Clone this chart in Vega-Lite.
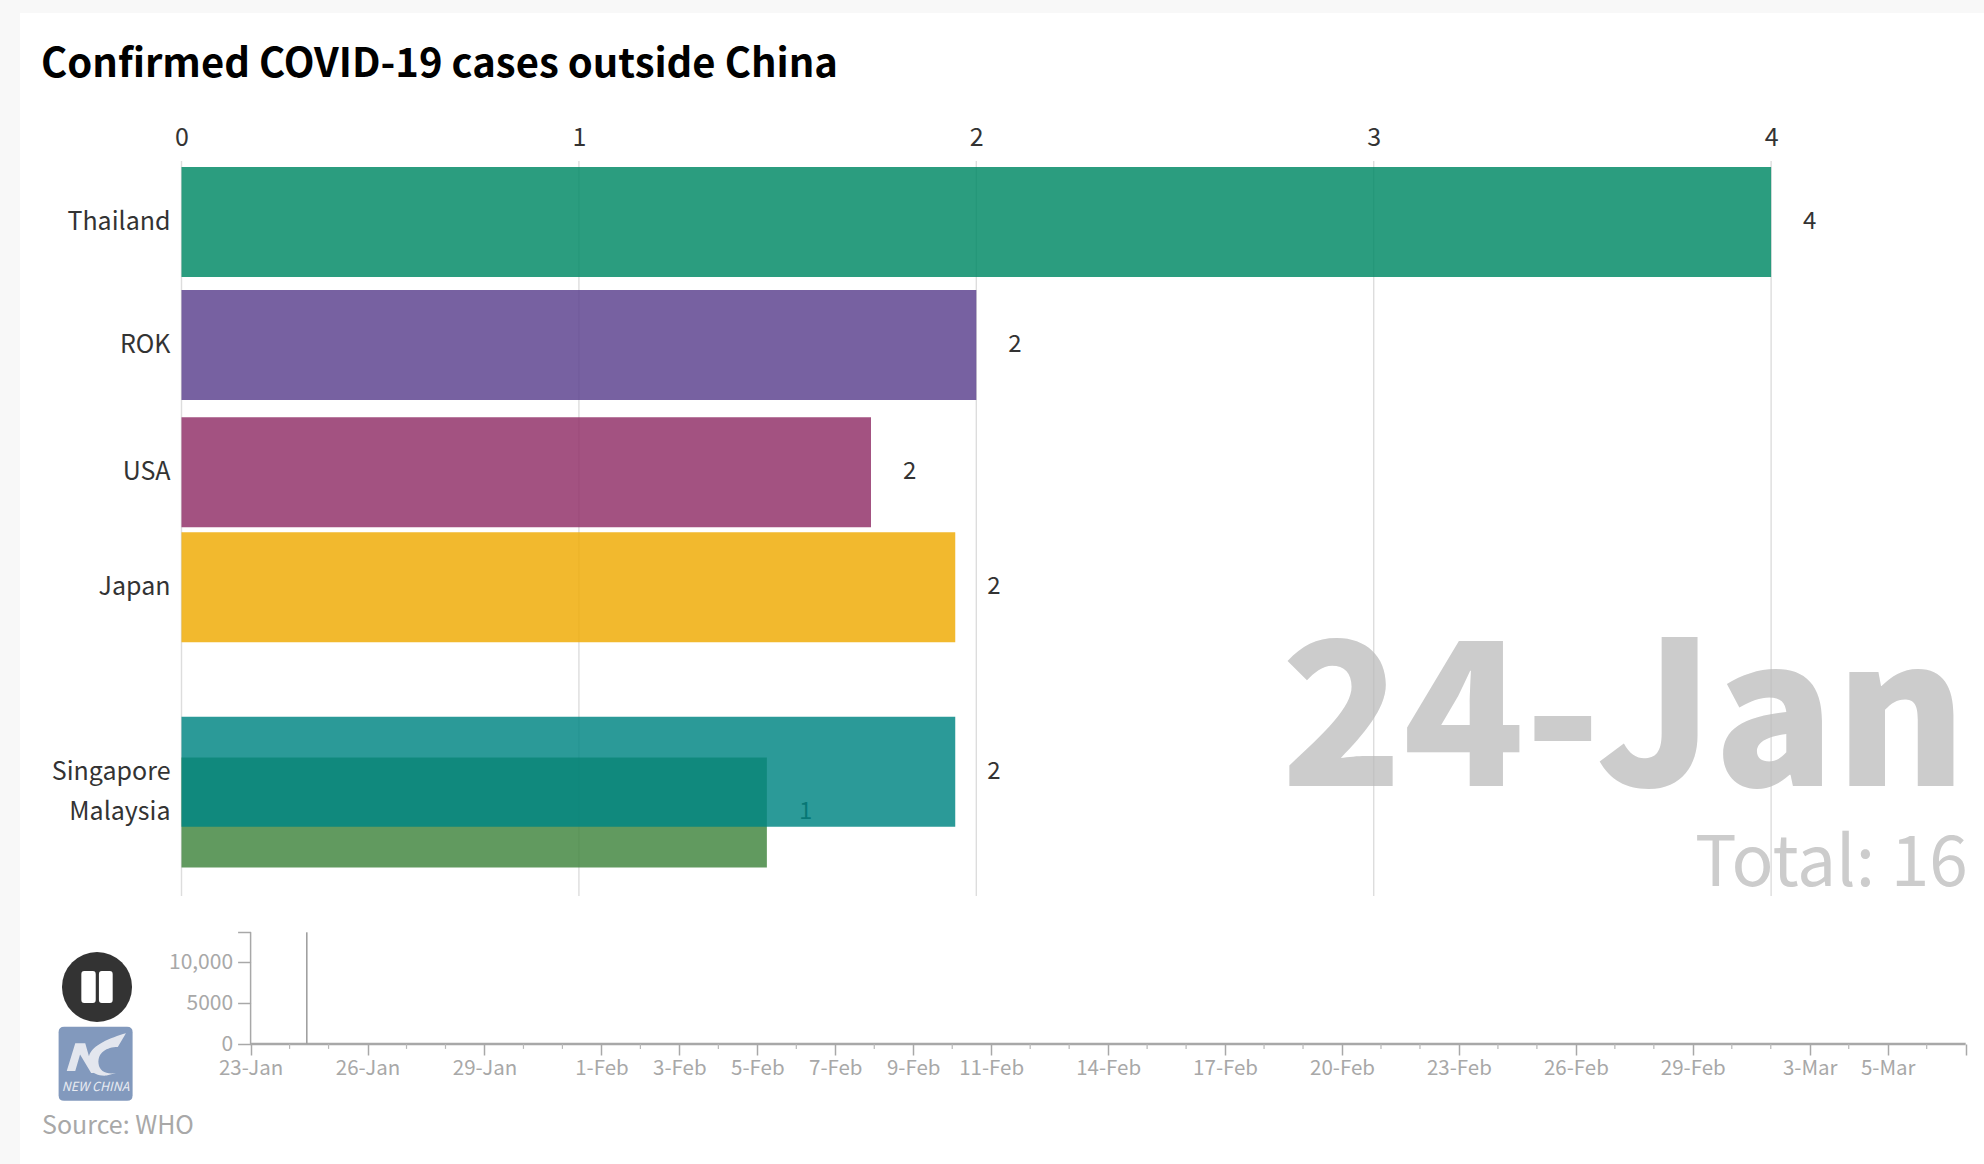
{
  "$schema": "https://vega.github.io/schema/vega-lite/v6.json",
  "background": "#f8f8f8",
  "padding": {"left": 20, "top": 13, "right": 0, "bottom": 0},
  "spacing": 0,
  "config": {
    "font": "Noto Sans CJK SC",
    "view": {"fill": "white", "stroke": null}
  },
  "datasets": {
    "bars": [
      {"country": "Thailand", "cases": 4, "rank": 0},
      {"country": "ROK", "cases": 2, "rank": 1},
      {"country": "USA", "cases": 1.735, "rank": 2.035},
      {"country": "Japan", "cases": 1.947, "rank": 2.97},
      {"country": "Malaysia", "cases": 1.473, "rank": 4.8},
      {"country": "Singapore", "cases": 1.947, "rank": 4.47}
    ],
    "grid": [
      {"tick": 0, "from": -0.496, "to": 5.48},
      {"tick": 1, "from": -0.496, "to": 5.48},
      {"tick": 2, "from": -0.496, "to": 5.48},
      {"tick": 3, "from": -0.496, "to": 5.48},
      {"tick": 4, "from": -0.496, "to": 5.48}
    ],
    "timeline": [
      {"date": "2020-01-24T10:36:00", "base": 0, "total": 13672}
    ],
    "axisline": [
      {"start": "2020-01-23T00:00:00", "end": "2020-03-07T00:00:00", "base": 0, "top": 13672}
    ],
    "days": [
      {"day": "2020-01-24T00:00:00", "base": 0, "tip": -600}, {"day": "2020-01-25T00:00:00", "base": 0, "tip": -600}, {"day": "2020-01-27T00:00:00", "base": 0, "tip": -600},
      {"day": "2020-01-28T00:00:00", "base": 0, "tip": -600}, {"day": "2020-01-30T00:00:00", "base": 0, "tip": -600}, {"day": "2020-01-31T00:00:00", "base": 0, "tip": -600},
      {"day": "2020-02-02T00:00:00", "base": 0, "tip": -600}, {"day": "2020-02-04T00:00:00", "base": 0, "tip": -600}, {"day": "2020-02-06T00:00:00", "base": 0, "tip": -600},
      {"day": "2020-02-08T00:00:00", "base": 0, "tip": -600}, {"day": "2020-02-10T00:00:00", "base": 0, "tip": -600}, {"day": "2020-02-12T00:00:00", "base": 0, "tip": -600},
      {"day": "2020-02-13T00:00:00", "base": 0, "tip": -600}, {"day": "2020-02-15T00:00:00", "base": 0, "tip": -600}, {"day": "2020-02-16T00:00:00", "base": 0, "tip": -600},
      {"day": "2020-02-18T00:00:00", "base": 0, "tip": -600}, {"day": "2020-02-19T00:00:00", "base": 0, "tip": -600}, {"day": "2020-02-21T00:00:00", "base": 0, "tip": -600},
      {"day": "2020-02-22T00:00:00", "base": 0, "tip": -600}, {"day": "2020-02-24T00:00:00", "base": 0, "tip": -600}, {"day": "2020-02-25T00:00:00", "base": 0, "tip": -600},
      {"day": "2020-02-27T00:00:00", "base": 0, "tip": -600}, {"day": "2020-02-28T00:00:00", "base": 0, "tip": -600}, {"day": "2020-03-01T00:00:00", "base": 0, "tip": -600},
      {"day": "2020-03-02T00:00:00", "base": 0, "tip": -600}, {"day": "2020-03-04T00:00:00", "base": 0, "tip": -600}, {"day": "2020-03-06T00:00:00", "base": 0, "tip": -600}
    ]
  },
  "vconcat": [
    {
      "width": 1964,
      "height": 907,
      "title": {
        "text": "Confirmed COVID-19 cases outside China",
        "anchor": "start",
        "frame": "group",
        "offset": -71.5,
        "dx": 21,
        "fontSize": 40,
        "fontWeight": "bold",
        "color": "#000000"
      },
      "layer": [
        {
          "data": {"name": "grid"},
          "mark": {"type": "rule", "color": "#dddddd", "strokeWidth": 1.4},
          "encoding": {
            "x": {
              "field": "tick",
              "type": "quantitative",
              "scale": {"domain": [-0.4064, 4.5357], "nice": false, "zero": false},
              "axis": {
                "orient": "top",
                "title": null,
                "values": [0, 1, 2, 3, 4],
                "format": "d",
                "domain": false,
                "ticks": false,
                "grid": false,
                "offset": -137,
                "labelPadding": 0,
                "labelFontSize": 25,
                "labelColor": "#333333"
              }
            },
            "y": {
              "field": "from",
              "type": "quantitative",
              "scale": {"domain": [-1.699, 5.675], "reverse": true, "nice": false, "zero": false, "padding": 0},
              "axis": null
            },
            "y2": {"field": "to"}
          }
        },
        {
          "data": {"values": [{"label": "24-Jan"}]},
          "mark": {"type": "text", "align": "right", "baseline": "alphabetic", "fontSize": 200, "fontWeight": 900, "color": "#bbbbbb", "opacity": 0.75},
          "encoding": {
            "x": {"datum": 4.492, "type": "quantitative"},
            "y": {"datum": 4.583, "type": "quantitative", "axis": null},
            "text": {"field": "label", "type": "nominal"}
          }
        },
        {
          "data": {"values": [{"label": "Total: 16"}]},
          "mark": {"type": "text", "align": "right", "baseline": "alphabetic", "fontSize": 69.5, "color": "#bbbbbb", "opacity": 0.75},
          "encoding": {
            "x": {"datum": 4.495, "type": "quantitative"},
            "y": {"datum": 5.396, "type": "quantitative", "axis": null},
            "text": {"field": "label", "type": "nominal"}
          }
        },
        {
          "data": {"name": "bars"},
          "mark": {"type": "text", "align": "left", "dx": 32, "fontSize": 24, "color": "#333333"},
          "encoding": {
            "x": {"field": "cases", "type": "quantitative"},
            "y": {"field": "rank", "type": "quantitative", "axis": null},
            "text": {"field": "cases", "type": "quantitative", "format": ".0f"}
          }
        },
        {
          "data": {"name": "bars"},
          "mark": {"type": "bar", "orient": "horizontal", "height": 110, "opacity": 0.83},
          "encoding": {
            "x": {"field": "cases", "type": "quantitative", "stack": null},
            "y": {"field": "rank", "type": "quantitative", "axis": null},
            "color": {
              "field": "country",
              "type": "nominal",
              "legend": null,
              "scale": {
                "domain": ["Thailand", "ROK", "USA", "Japan", "Malaysia", "Singapore"],
                "range": ["#008965", "#5c418e", "#902f68", "#efab04", "#41853e", "#008683"]
              }
            }
          }
        },
        {
          "data": {"name": "bars"},
          "mark": {"type": "text", "align": "right", "dx": -11, "fontSize": 25, "color": "#333333"},
          "encoding": {
            "x": {"datum": 0, "type": "quantitative"},
            "y": {"field": "rank", "type": "quantitative", "axis": null},
            "text": {"field": "country", "type": "nominal"}
          }
        }
      ]
    },
    {
      "width": 1964,
      "height": 244,
      "layer": [
        {
          "data": {"name": "axisline"},
          "mark": {"type": "rule", "color": "#a8a8a8", "strokeWidth": 2.5},
          "encoding": {
            "x": {
              "field": "start",
              "type": "temporal",
              "scale": {
                "domain": [
                  {"year": 2020, "month": 1, "date": 17, "hours": 2, "minutes": 1},
                  {"year": 2020, "month": 3, "date": 7, "hours": 11, "minutes": 17}
                ],
                "nice": false
              },
              "axis": {
                "title": null,
                "orient": "bottom",
                "offset": -120,
                "domain": false,
                "grid": false,
                "tickSize": 11,
                "tickColor": "#a8a8a8",
                "tickWidth": 1.5,
                "labelOverlap": false,
                "labelFlush": false,
                "labelFontSize": 20.5,
                "labelColor": "#a8a8a8",
                "labelPadding": 3,
                "values": [
                  {"year": 2020, "month": 1, "date": 23},
                  {"year": 2020, "month": 1, "date": 26},
                  {"year": 2020, "month": 1, "date": 29},
                  {"year": 2020, "month": 2, "date": 1},
                  {"year": 2020, "month": 2, "date": 3},
                  {"year": 2020, "month": 2, "date": 5},
                  {"year": 2020, "month": 2, "date": 7},
                  {"year": 2020, "month": 2, "date": 9},
                  {"year": 2020, "month": 2, "date": 11},
                  {"year": 2020, "month": 2, "date": 14},
                  {"year": 2020, "month": 2, "date": 17},
                  {"year": 2020, "month": 2, "date": 20},
                  {"year": 2020, "month": 2, "date": 23},
                  {"year": 2020, "month": 2, "date": 26},
                  {"year": 2020, "month": 2, "date": 29},
                  {"year": 2020, "month": 3, "date": 3},
                  {"year": 2020, "month": 3, "date": 5},
                  {"year": 2020, "month": 3, "date": 7}
                ],
                "labelExpr": "datum.value >= datetime(2020, 2, 7) ? '' : timeFormat(datum.value, '%-d-%b')"
              }
            },
            "x2": {"field": "end"},
            "y": {
              "field": "base",
              "type": "quantitative",
              "scale": {"domain": [-14688, 15178], "nice": false, "zero": false, "padding": 0},
              "axis": {
                "title": null,
                "orient": "left",
                "offset": -230.6,
                "domain": false,
                "grid": false,
                "values": [0, 5000, 10000, 13672],
                "tickSize": 13,
                "tickColor": "#a8a8a8",
                "tickWidth": 1.5,
                "labelFontSize": 21,
                "labelColor": "#a8a8a8",
                "labelPadding": 5,
                "labelExpr": "datum.value == 10000 ? '10,000' : datum.value == 13672 ? '' : datum.value + ''"
              }
            }
          }
        },
        {
          "data": {"name": "axisline"},
          "mark": {"type": "rule", "color": "#a8a8a8", "strokeWidth": 1.5},
          "encoding": {
            "x": {"field": "start", "type": "temporal"},
            "y": {"field": "base", "type": "quantitative"},
            "y2": {"field": "top"}
          }
        },
        {
          "data": {"name": "timeline"},
          "mark": {"type": "rule", "color": "#a0a0a0", "strokeWidth": 1.6},
          "encoding": {
            "x": {"field": "date", "type": "temporal"},
            "y": {"field": "base", "type": "quantitative"},
            "y2": {"field": "total"}
          }
        },
        {
          "data": {"name": "days"},
          "mark": {"type": "rule", "color": "#b8b8b8", "strokeWidth": 1.2},
          "encoding": {
            "x": {"field": "day", "type": "temporal"},
            "y": {"field": "base", "type": "quantitative"},
            "y2": {"field": "tip"}
          }
        },
        {
          "data": {"values": [{"control": "pause"}]},
          "mark": {"type": "point", "filled": true, "shape": "circle", "size": 4905, "color": "#333333", "opacity": 1},
          "encoding": {
            "x": {"datum": {"year": 2020, "month": 1, "date": 19, "hours": 1, "minutes": 26}, "type": "temporal"},
            "y": {"datum": 6977, "type": "quantitative"}
          }
        },
        {
          "data": {"values": [{"control": "pause"}]},
          "mark": {
            "type": "point",
            "filled": true,
            "size": 1024,
            "color": "#ffffff",
            "opacity": 1,
            "shape": "M-0.98,-0.8 Q-0.98,-1 -0.8,-1 L-0.26,-1 Q-0.08,-1 -0.08,-0.8 L-0.08,0.8 Q-0.08,1 -0.26,1 L-0.8,1 Q-0.98,1 -0.98,0.8 Z M0.12,-0.8 Q0.12,-1 0.3,-1 L0.8,-1 Q0.98,-1 0.98,-0.8 L0.98,0.8 Q0.98,1 0.8,1 L0.3,1 Q0.12,1 0.12,0.8 Z"
          },
          "encoding": {
            "x": {"datum": {"year": 2020, "month": 1, "date": 19, "hours": 1, "minutes": 26}, "type": "temporal"},
            "y": {"datum": 6977, "type": "quantitative"}
          }
        },
        {
          "data": {"values": [{"control": "logo"}]},
          "mark": {
            "type": "point",
            "filled": true,
            "size": 5476,
            "color": "#8299bd",
            "opacity": 1,
            "shape": "M-1,-0.85 Q-1,-1 -0.85,-1 L0.85,-1 Q1,-1 1,-0.85 L1,0.85 Q1,1 0.85,1 L-0.85,1 Q-1,1 -1,0.85 Z"
          },
          "encoding": {
            "x": {"datum": {"year": 2020, "month": 1, "date": 19, "hours": 0, "minutes": 34}, "type": "temporal"},
            "y": {"datum": -2411, "type": "quantitative"}
          }
        },
        {
          "data": {"values": [{"control": "logo"}]},
          "mark": {
            "type": "point",
            "filled": true,
            "size": 5476,
            "color": "#e3e6ee",
            "opacity": 1,
            "shape": "M-0.78,0.2 L-0.55,-0.55 L-0.28,-0.55 L-0.05,0.25 L-0.12,0.25 L-0.42,-0.25 L-0.55,0.2 Z M0.82,-0.82 L0.6,-0.45 C0.3,-0.45 0.05,-0.3 0.08,0 C0.1,0.2 0.3,0.3 0.55,0.25 L0.3,0.32 C-0.1,0.35 -0.25,0.1 -0.18,-0.2 C-0.1,-0.5 0.4,-0.7 0.82,-0.82 Z"
          },
          "encoding": {
            "x": {"datum": {"year": 2020, "month": 1, "date": 19, "hours": 0, "minutes": 34}, "type": "temporal"},
            "y": {"datum": -2411, "type": "quantitative"}
          }
        },
        {
          "data": {"values": [{"label": "NEW CHINA"}]},
          "mark": {"type": "text", "fontSize": 12.5, "fontStyle": "italic", "color": "#e8ebf2", "letterSpacing": 0.6},
          "encoding": {
            "x": {"datum": {"year": 2020, "month": 1, "date": 19, "hours": 0, "minutes": 34}, "type": "temporal"},
            "y": {"datum": -5263, "type": "quantitative"},
            "text": {"field": "label", "type": "nominal"}
          }
        },
        {
          "data": {"values": [{"label": "Source: WHO"}]},
          "mark": {"type": "text", "align": "left", "fontSize": 25, "color": "#a8a8a8"},
          "encoding": {
            "x": {"datum": {"year": 2020, "month": 1, "date": 17, "hours": 15, "minutes": 34}, "type": "temporal"},
            "y": {"datum": -10037, "type": "quantitative"},
            "text": {"field": "label", "type": "nominal"}
          }
        }
      ]
    }
  ]
}
